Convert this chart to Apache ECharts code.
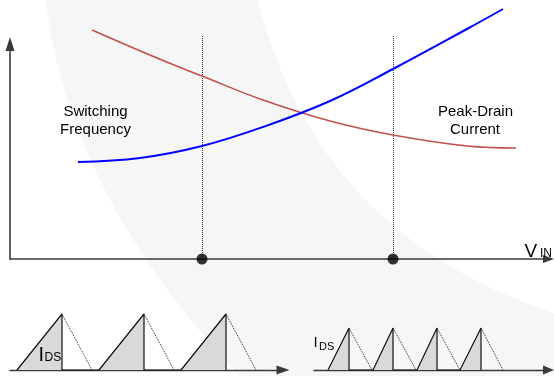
<!DOCTYPE html>
<html>
<head>
<meta charset="utf-8">
<script src="https://cdn.jsdelivr.net/npm/echarts@6/dist/echarts.min.js"></script>
<style>
html, body { margin: 0; padding: 0; background: #fff; }
#main { width: 554px; height: 376px; }
</style>
</head>
<body>
<div id="main"></div>
<script>
// switching frequency vs V_IN (arbitrary units)
var freqX = [68, 130, 192, 253, 320, 383, 457, 493];
var freqY = [97, 101, 113, 132, 158, 190, 230, 250];
// peak drain current vs V_IN
var currX = [82, 147, 192, 253, 320, 383, 457, 506];
var currY = [229, 201, 183, 159, 138, 124, 113, 111];
// the two marked input voltages
var vinMarks = [192, 383];
var markTop = 223;

// drain current pulses, low V_IN (left) and high V_IN (right)
var lowStart = [7, 89, 171];
var lowPeak = [52, 134, 216];
var lowEnd = [82, 164, 246];
var lowHeight = 56;
var highStart = [14, 59, 103, 146];
var highPeak = [35, 79, 123, 167];
var highEnd = [58, 102, 146, 189];
var highHeight = 42;

var myChart = echarts.init(document.getElementById('main'));

function pairs(xs, ys) {
    return xs.map(function (x, i) { return [x, ys[i]]; });
}

function rampPath(starts, peaks, h) {
    var d = [];
    for (var i = 0; i < starts.length; i++) {
        d.push([starts[i], 0], [peaks[i], h], [peaks[i], 0]);
    }
    return d;
}

function fallLines(peaks, ends, h) {
    return peaks.map(function (p, i) {
        return { coords: [[p, h], [ends[i], 0]] };
    });
}

// faint background swoosh
function quad(p0, c, p2, n) {
    var pts = [];
    for (var i = 0; i <= n; i++) {
        var t = i / n, u = 1 - t;
        pts.push([u * u * p0[0] + 2 * u * t * c[0] + t * t * p2[0],
                  u * u * p0[1] + 2 * u * t * c[1] + t * t * p2[1]]);
    }
    return pts;
}
var swoosh = quad([46, 0], [67, 192], [240, 376], 40)
    .concat([[554, 376], [554, 313]])
    .concat(quad([554, 313], [315.5, 233.5], [258, 0], 40));

function axisLine(size, w) {
    return {
        show: true,
        onZero: false,
        symbol: ['none', 'triangle'],
        symbolSize: size,
        lineStyle: { color: '#3a3a3a', width: w }
    };
}
var hidden = { axisTick: { show: false }, axisLabel: { show: false }, splitLine: { show: false } };

var font = '"Liberation Sans", Arial, sans-serif';
function txt(s, x, y, size, align) {
    return {
        type: 'text', x: x, y: y, z: 100, silent: true,
        style: { text: s, fill: '#000', fontSize: size, fontFamily: font,
                 align: align || 'center', verticalAlign: 'middle' }
    };
}

var option = {
    animation: false,
    backgroundColor: '#fff',
    grid: [
        { left: 10, right: 5.5, top: 44, bottom: 117 },
        { left: 10, right: 271, top: 314, bottom: 6 },
        { left: 314, right: 5.5, top: 314, bottom: 6 }
    ],
    xAxis: [
        Object.assign({ gridIndex: 0, type: 'value', min: 0, max: 538.5, axisLine: axisLine([8, 11], 1.6) }, hidden),
        Object.assign({ gridIndex: 1, type: 'value', min: 0, max: 273, axisLine: axisLine([9, 13], 1.4) }, hidden),
        Object.assign({ gridIndex: 2, type: 'value', min: 0, max: 234.5, axisLine: axisLine([9, 11], 1.4) }, hidden)
    ],
    yAxis: [
        Object.assign({ gridIndex: 0, type: 'value', min: 0, max: 215, axisLine: axisLine([9, 14], 1.6) }, hidden),
        Object.assign({ gridIndex: 1, type: 'value', min: 0, max: 56, show: false }, hidden),
        Object.assign({ gridIndex: 2, type: 'value', min: 0, max: 56, show: false }, hidden)
    ],
    graphic: [
        { type: 'polygon', z: -10, silent: true, shape: { points: swoosh }, style: { fill: '#f6f6f6' } },
        txt('Switching', 95.5, 111.5, 15),
        txt('Frequency', 95.5, 130, 15),
        txt('Peak-Drain', 475.5, 111.5, 15),
        txt('Current', 475, 130, 15),
        txt('V', 524.5, 251.5, 19, 'left'),
        txt('IN', 540, 253.5, 12, 'left'),
        txt('I', 38.5, 355, 20, 'left'),
        txt('DS', 44.5, 357.5, 12, 'left'),
        txt('I', 313.5, 343, 15, 'left'),
        txt('DS', 319, 347, 11, 'left')
    ],
    series: [
        {
            type: 'lines', coordinateSystem: 'cartesian2d', xAxisIndex: 0, yAxisIndex: 0,
            clip: false, silent: true,
            lineStyle: { color: '#333', width: 1, type: 'dotted', opacity: 1 },
            data: vinMarks.map(function (x) { return { coords: [[x, 0], [x, markTop]] }; })
        },
        {
            name: 'Peak-Drain Current', type: 'line', xAxisIndex: 0, yAxisIndex: 0,
            data: pairs(currX, currY), smooth: 0.4, showSymbol: false, clip: false,
            lineStyle: { color: '#c0504d', width: 1.6 }
        },
        {
            name: 'Switching Frequency', type: 'line', xAxisIndex: 0, yAxisIndex: 0,
            data: pairs(freqX, freqY), smooth: 0.4, showSymbol: false, clip: false,
            lineStyle: { color: '#0000ff', width: 2 }
        },
        {
            type: 'scatter', xAxisIndex: 0, yAxisIndex: 0, clip: false, z: 5,
            data: vinMarks.map(function (x) { return [x, 0]; }),
            symbolSize: 11, itemStyle: { color: '#000' }
        },
        {
            type: 'line', xAxisIndex: 1, yAxisIndex: 1, clip: false, showSymbol: false,
            data: rampPath(lowStart, lowPeak, lowHeight),
            lineStyle: { color: '#111', width: 1.2 },
            areaStyle: { color: '#d9d9d9', opacity: 1 }
        },
        {
            type: 'lines', coordinateSystem: 'cartesian2d', xAxisIndex: 1, yAxisIndex: 1,
            clip: false, silent: true,
            lineStyle: { color: '#222', width: 1, type: 'dotted', opacity: 1 },
            data: fallLines(lowPeak, lowEnd, lowHeight)
        },
        {
            type: 'line', xAxisIndex: 2, yAxisIndex: 2, clip: false, showSymbol: false,
            data: rampPath(highStart, highPeak, highHeight),
            lineStyle: { color: '#111', width: 1.2 },
            areaStyle: { color: '#d9d9d9', opacity: 1 }
        },
        {
            type: 'lines', coordinateSystem: 'cartesian2d', xAxisIndex: 2, yAxisIndex: 2,
            clip: false, silent: true,
            lineStyle: { color: '#222', width: 1, type: 'dotted', opacity: 1 },
            data: fallLines(highPeak, highEnd, highHeight)
        }
    ]
};

myChart.setOption(option);
</script>
</body>
</html>
